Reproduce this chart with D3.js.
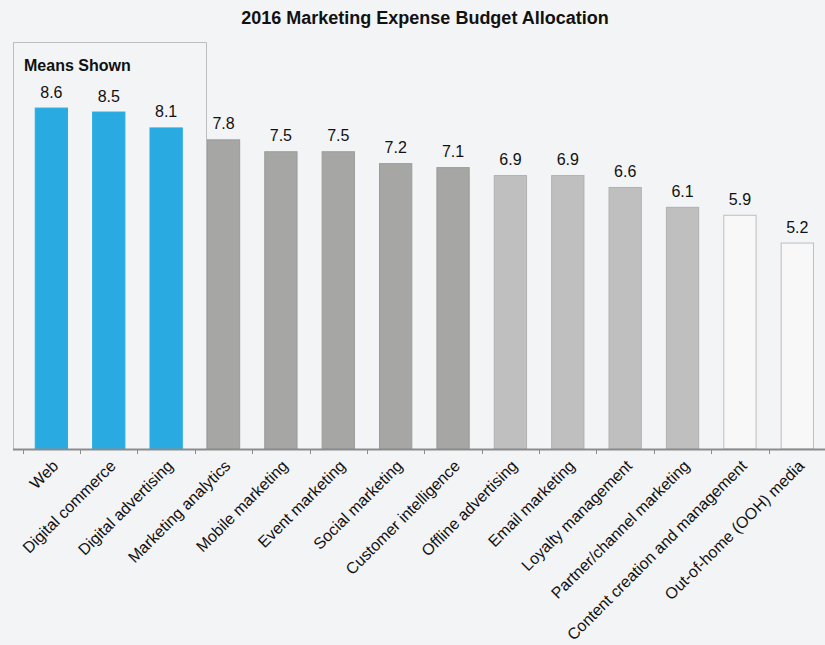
<!DOCTYPE html>
<html>
<head>
<meta charset="utf-8">
<script src="https://cdn.jsdelivr.net/npm/d3@7"></script>
<style>
  body { margin: 0; background: #f3f4f6; }
  svg { display: block; font-family: Arial, "Liberation Sans", sans-serif; }
</style>
</head>
<body>
<div id="chart"></div>
<script>
// categories and means
const categories = ["Web", "Digital commerce", "Digital advertising", "Marketing analytics",
  "Mobile marketing", "Event marketing", "Social marketing", "Customer intelligence",
  "Offline advertising", "Email marketing", "Loyalty management", "Partner/channel marketing",
  "Content creation and management", "Out-of-home (OOH) media"];
const means = [8.6, 8.5, 8.1, 7.8, 7.5, 7.5, 7.2, 7.1, 6.9, 6.9, 6.6, 6.1, 5.9, 5.2];
// group of each bar (drives the colour)
const groups = ["top", "top", "top", "mid", "mid", "mid", "mid", "mid",
  "low", "low", "low", "low", "bottom", "bottom"];

const width = 825, height = 645;
const baseY = 449;

const fillFor = {top: "#29abe2", mid: "#a6a6a4", low: "#bfbfbf", bottom: "#f8f8f8"};
const strokeFor = {top: "#29abe2", mid: "#9a9a98", low: "#b0b0b0", bottom: "#bdbdbd"};

let svg = d3.select("#chart").append("svg")
    .attr("width", width)
    .attr("height", height);

svg.append("rect")
    .attr("width", width).attr("height", height)
    .attr("fill", "#f3f4f6");

// scales
let x = d3.scaleBand()
    .domain(categories)
    .range([22.7, 826])
    .paddingInner(0.42)
    .paddingOuter(0.21);

let y = d3.scaleLinear()
    .domain([0, 10])
    .range([baseY, 52]);

// title
svg.append("text")
    .attr("x", 425).attr("y", 24)
    .attr("text-anchor", "middle")
    .attr("font-size", 18).attr("font-weight", "bold")
    .attr("fill", "#111")
    .text("2016 Marketing Expense Budget Allocation");

// "Means Shown" box around the top group
svg.append("path")
    .attr("d", "M13.5," + baseY + "V42.5H206.5V" + baseY)
    .attr("fill", "none")
    .attr("stroke", "#bdbdbd")
    .attr("stroke-width", 1);

svg.append("text")
    .attr("x", 24).attr("y", 71)
    .attr("font-size", 16).attr("font-weight", "bold")
    .attr("fill", "#111")
    .text("Means Shown");

// bars
svg.append("g").selectAll("rect")
    .data(categories)
    .join("rect")
    .attr("x", d => x(d) + 0.5)
    .attr("y", (d, i) => y(means[i]) + 0.5)
    .attr("width", x.bandwidth() - 1)
    .attr("height", (d, i) => baseY - y(means[i]) - 0.5)
    .attr("fill", (d, i) => fillFor[groups[i]])
    .attr("stroke", (d, i) => strokeFor[groups[i]])
    .attr("stroke-width", 1);

// value labels
svg.append("g").selectAll("text")
    .data(categories)
    .join("text")
    .attr("x", d => x(d) + x.bandwidth() / 2)
    .attr("y", (d, i) => y(means[i]) - 10)
    .attr("text-anchor", "middle")
    .attr("font-size", 16)
    .attr("fill", "#111")
    .text((d, i) => means[i].toFixed(1));

// x axis
let axis = svg.append("g")
    .attr("transform", "translate(0," + baseY + ")");

axis.append("line")
    .attr("x1", 13).attr("x2", width)
    .attr("y1", 0.5).attr("y2", 0.5)
    .attr("stroke", "#8c8c8c")
    .attr("stroke-width", 2);

// ticks sit on the band edges
let tickX = d => Math.round(x(d) - x.step() * 0.21) + 0.5;

axis.selectAll("line.tick")
    .data(categories)
    .join("line")
    .attr("class", "tick")
    .attr("x1", tickX)
    .attr("x2", tickX)
    .attr("y1", 0).attr("y2", 5)
    .attr("stroke", "#8c8c8c")
    .attr("stroke-width", 1);

axis.selectAll("text")
    .data(categories)
    .join("text")
    .attr("transform", d => "translate(" + (x(d) + x.bandwidth() / 2 + 4) + ",14) rotate(-45)")
    .attr("text-anchor", "end")
    .attr("dy", "0.35em")
    .attr("font-size", 16)
    .attr("fill", "#111")
    .text(d => d);
</script>
</body>
</html>
